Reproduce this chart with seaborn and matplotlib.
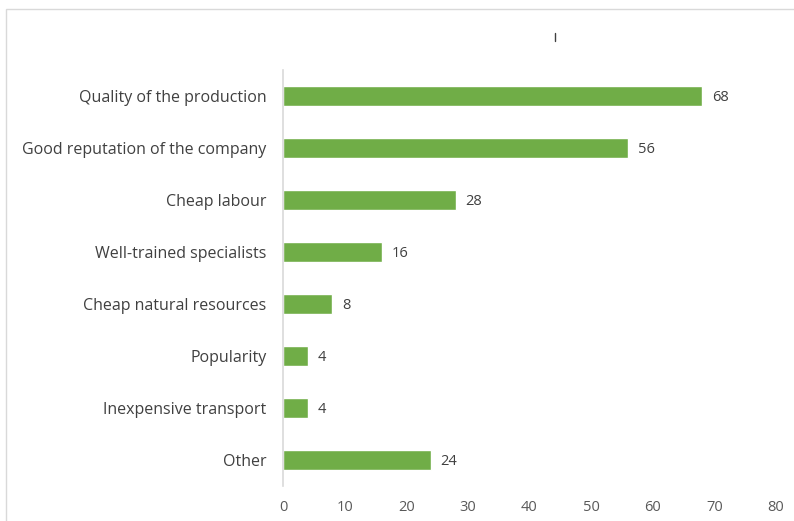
import matplotlib
matplotlib.use("Agg")
import matplotlib.pyplot as plt
from matplotlib.patches import Rectangle
from matplotlib.lines import Line2D
import seaborn as sns
import pandas as pd

categories = [
    "Quality of the production",
    "Good reputation of the company",
    "Cheap labour",
    "Well-trained specialists",
    "Cheap natural resources",
    "Popularity",
    "Inexpensive transport",
    "Other",
]
values = [68, 56, 28, 16, 8, 4, 4, 24]
x_ticks = [0, 10, 20, 30, 40, 50, 60, 70, 80]

df = pd.DataFrame({"factor": categories, "share": values})

sns.set_theme(style="white")
plt.rcParams["font.family"] = ["Open Sans", "DejaVu Sans"]

fig = plt.figure(figsize=(7.94, 5.21), dpi=100)
ax = fig.add_axes([0.3564, 0.0672, 0.6209, 0.7985])

sns.barplot(data=df, x="share", y="factor", orient="h", color="#70AD47",
            saturation=1, width=0.37, ax=ax)

for patch, v in zip(ax.patches, values):
    ax.annotate(str(v), (patch.get_width(), patch.get_y() + patch.get_height() / 2),
                xytext=(7, -1), textcoords="offset points", va="center", ha="left",
                fontsize=10.5, color="#404040")

ax.set_xlim(0, 80)
ax.set_ylim(len(categories) - 0.5, -0.5)
ax.set_xticks(x_ticks)
ax.set_xticklabels([str(t) for t in x_ticks], fontsize=10.5, color="#595959")
ax.tick_params(axis="y", labelsize=11.5, labelcolor="#404040", length=0, pad=12)
ax.tick_params(axis="x", length=0, pad=10)
ax.set_xlabel("")
ax.set_ylabel("")
for s in ["top", "right", "bottom"]:
    ax.spines[s].set_visible(False)
ax.spines["left"].set_color("#D9D9D9")
ax.spines["left"].set_linewidth(1.2)

# outer chart frame
fig.add_artist(Rectangle((6 / 794, -0.02), 1.0, 0.9827 + 0.02, transform=fig.transFigure,
                         fill=False, edgecolor="#D9D9D9", linewidth=1.0))
# small stroke left over from the title area
fig.add_artist(Line2D([555 / 794, 555 / 794], [1 - 33 / 521, 1 - 41 / 521],
                      transform=fig.transFigure, color="#404040", linewidth=1.0))

fig.savefig("out.png", dpi=100)
